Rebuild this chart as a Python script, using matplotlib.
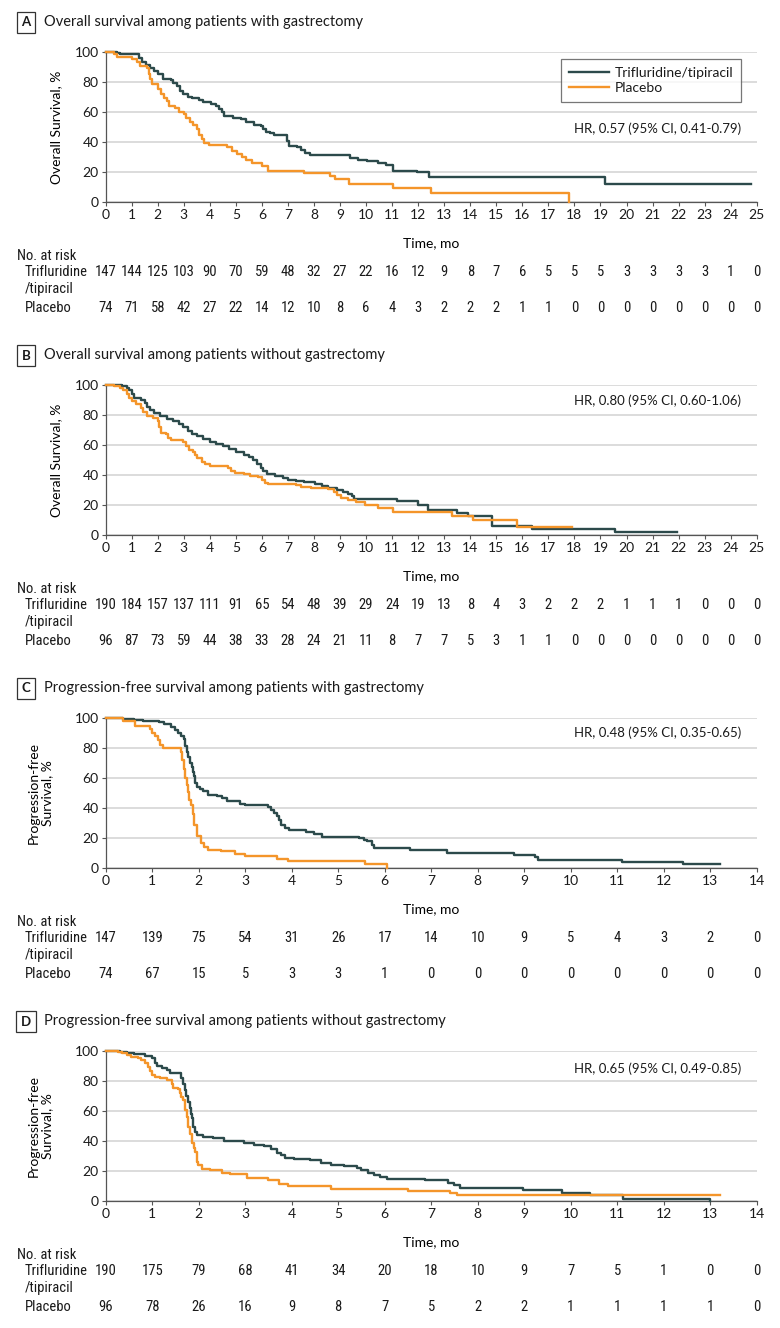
import matplotlib
matplotlib.use('Agg')
import matplotlib.pyplot as plt
from matplotlib import font_manager as fm
import matplotlib.transforms as mtransforms
from matplotlib.lines import Line2D

# ---------------- data ----------------
months_os = list(range(0, 26))
months_pfs = list(range(0, 15))

# Panel A: OS with gastrectomy
A_tri_t = [0, 0.42, 0.55, 1.29, 1.4, 1.55, 1.7, 1.85, 2.0, 2.2, 2.5, 2.6, 2.75, 2.85, 2.95, 3.15, 3.3, 3.6, 3.75,
           4.05, 4.25, 4.35, 4.45, 4.55, 4.9, 5.2, 5.4, 5.7, 5.95, 6.05, 6.15, 6.3, 6.45, 6.98, 7.05, 7.35, 7.5,
           7.65, 7.85, 9.38, 9.7, 10.05, 10.45, 10.75, 11.02, 11.94, 12.43, 19.19, 24.8]
A_tri_s = [100, 99.3, 98.6, 95.5, 93, 91.5, 89, 87, 85, 82, 81, 79, 77, 74, 72, 70, 69.3, 68, 66.5,
           65.3, 64, 62, 60, 57.3, 56, 55, 53, 51.5, 50.5, 48.5, 47, 46, 44.7, 40.5, 37.6, 36.5, 35,
           33, 31.2, 29.5, 28.3, 27.2, 26, 24.8, 21, 20, 16.6, 12.4, 12.4]
A_pla_t = [0, 0.3, 0.45, 1.0, 1.19, 1.3, 1.6, 1.65, 1.72, 1.77, 2.02, 2.12, 2.22, 2.35, 2.45, 2.65, 2.8, 3.0,
           3.1, 3.25, 3.35, 3.5, 3.6, 3.68, 3.78, 3.95, 4.65, 4.85, 5.05, 5.25, 5.4, 5.6, 6.0, 6.22, 7.63,
           8.6, 8.8, 9.36, 11.05, 12.5, 17.8]
A_pla_s = [100, 98.6, 96.2, 95, 93, 90.5, 89, 85, 82, 78.5, 75, 72, 69, 67, 64, 62.5, 59.7, 58.5,
           56, 53.5, 51.5, 49, 45, 42, 39.5, 38, 36.5, 34, 32, 30, 28, 26.3, 24.3, 21, 19.5,
           17.3, 15.7, 12.2, 9.4, 6.4, 0]
A_risk_tri = [147, 144, 125, 103, 90, 70, 59, 48, 32, 27, 22, 16, 12, 9, 8, 7, 6, 5, 5, 5, 3, 3, 3, 3, 1, 0]
A_risk_pla = [74, 71, 58, 42, 27, 22, 14, 12, 10, 8, 6, 4, 3, 2, 2, 2, 1, 1, 0, 0, 0, 0, 0, 0, 0, 0]

# Panel B: OS without gastrectomy
B_tri_t = [0, 0.61, 0.8, 0.9, 1.0, 1.1, 1.35, 1.5, 1.6, 1.72, 1.85, 2.1, 2.35, 2.6, 2.8, 2.95, 3.15, 3.3, 3.5,
           3.75, 4.0, 4.25, 4.5, 4.75, 5.0, 5.3, 5.5, 5.65, 5.8, 5.95, 6.05, 6.18, 6.5, 6.8, 7.0, 7.3, 7.6,
           8.05, 8.3, 8.55, 8.9, 9.1, 9.3, 9.45, 9.55, 11.17, 12.0, 12.39, 13.48, 13.93, 14.82, 16.36, 19.56, 21.93]
B_tri_s = [100, 99.3, 98, 96.5, 94, 91.5, 90, 88, 85.5, 83.5, 81, 79, 77.5, 76, 74, 72, 69.5, 67.5, 66,
           64, 62, 60.5, 59, 57, 55, 53.5, 52, 50, 47.5, 45, 42.5, 40.7, 39.5, 38.3, 37, 36, 35.5,
           34, 33, 31.5, 30, 29, 27.5, 25.8, 24.2, 22.5, 20.3, 17, 14.8, 12.6, 6.4, 4.2, 2.0, 2.0]
B_pla_t = [0, 0.3, 0.55, 0.68, 0.8, 0.9, 1.0, 1.15, 1.35, 1.42, 1.6, 1.8, 2.0, 2.05, 2.12, 2.3, 2.4, 2.5,
           2.98, 3.1, 3.2, 3.35, 3.42, 3.52, 3.7, 3.82, 4.0, 4.7, 4.82, 4.95, 5.3, 5.55, 5.85, 6.0, 6.1,
           6.22, 7.3, 7.5, 7.9, 8.55, 8.75, 8.9, 9.05, 9.3, 9.6, 9.95, 10.45, 11.05, 13.29, 14.12, 15.78, 17.9]
B_pla_s = [100, 99.3, 98, 96.5, 94, 91.5, 89, 87, 84.5, 82, 79.5, 78, 76, 72, 68, 67, 64.5, 63,
           62, 59, 56.5, 55, 53, 51, 49, 47.5, 46.3, 44.5, 42.5, 41.5, 40.5, 39.5, 38.5, 36.5, 35,
           34, 33.3, 32, 31.5, 30.5, 28.5, 26.5, 24.5, 23.5, 22, 20, 18.1, 15.4, 13, 10.4, 5.3, 5.3]
B_risk_tri = [190, 184, 157, 137, 111, 91, 65, 54, 48, 39, 29, 24, 19, 13, 8, 4, 3, 2, 2, 2, 1, 1, 1, 0, 0, 0]
B_risk_pla = [96, 87, 73, 59, 44, 38, 33, 28, 24, 21, 11, 8, 7, 7, 5, 3, 1, 1, 0, 0, 0, 0, 0, 0, 0, 0]

# Panel C: PFS with gastrectomy
C_tri_t = [0, 0.38, 0.6, 0.8, 1.15, 1.25, 1.4, 1.48, 1.55, 1.63, 1.68, 1.71, 1.75, 1.78, 1.82, 1.85, 1.87, 1.89,
           1.92, 1.96, 2.02, 2.1, 2.2, 2.39, 2.5, 2.6, 2.75, 2.88, 3.0, 3.5, 3.55, 3.62, 3.68, 3.72, 3.78,
           3.85, 3.95, 4.3, 4.47, 4.65, 5.45, 5.55, 5.62, 5.72, 5.78, 6.54, 7.33, 8.77, 9.23, 9.3, 11.1, 12.42, 13.21]
C_tri_s = [100, 99.3, 98.7, 98, 97, 95.5, 94, 92, 90, 88, 86, 81, 77, 74, 70, 67.5, 64, 61,
           56.5, 54, 52.5, 51, 49, 48, 47, 45, 44.6, 43, 42, 40.5, 39, 37, 34.5, 32, 29,
           27, 25.5, 24, 22.5, 20.8, 20, 19, 18, 15.5, 13.5, 12, 10.2, 9.1, 7.5, 5.8, 4.2, 3.1, 3.1]
C_pla_t = [0, 0.38, 0.63, 0.95, 1.0, 1.07, 1.12, 1.17, 1.24, 1.63, 1.65, 1.68, 1.7, 1.74, 1.77, 1.8, 1.83,
           1.87, 1.9, 1.96, 2.05, 2.12, 2.2, 2.49, 2.78, 3.0, 3.68, 3.93, 5.58, 6.04]
C_pla_s = [100, 97.6, 94.5, 92.5, 90, 88, 85, 82, 79.7, 77, 72, 66, 60, 55, 50.5, 45.5, 42,
           36, 29, 21.2, 17, 14, 12.4, 11.3, 9.5, 8.4, 6.5, 5, 3.1, 0]
C_risk_tri = [147, 139, 75, 54, 31, 26, 17, 14, 10, 9, 5, 4, 3, 2, 0]
C_risk_pla = [74, 67, 15, 5, 3, 3, 1, 0, 0, 0, 0, 0, 0, 0, 0]

# Panel D: PFS without gastrectomy
D_tri_t = [0, 0.31, 0.45, 0.6, 0.85, 1.0, 1.05, 1.1, 1.2, 1.31, 1.38, 1.57, 1.62, 1.66, 1.7, 1.73, 1.77, 1.81,
           1.84, 1.86, 1.88, 1.91, 1.97, 2.1, 2.3, 2.54, 2.97, 3.19, 3.4, 3.55, 3.69, 3.76, 3.85, 4.05,
           4.4, 4.63, 4.84, 5.13, 5.4, 5.49, 5.65, 5.78, 5.9, 6.06, 6.86, 7.36, 7.5, 7.61, 8.98, 9.81,
           10.41, 11.13, 13.0]
D_tri_s = [100, 99.3, 98.5, 97.8, 96.5, 95, 92, 90, 88.5, 87, 85.5, 85, 82, 78, 74, 70, 66, 62,
           58, 55, 49.5, 46, 44, 42.8, 41.7, 40.1, 38.8, 37.7, 36.5, 35, 32.2, 30.6, 29, 28.4,
           27.5, 25.5, 24.4, 23.5, 22, 20.6, 19, 17.3, 16, 15, 14, 12.4, 10.6, 8.9, 7.8, 5.8,
           4.3, 1.2, 0]
D_pla_t = [0, 0.27, 0.35, 0.45, 0.55, 0.7, 0.75, 0.85, 0.9, 0.95, 1.0, 1.05, 1.17, 1.32, 1.42, 1.45, 1.55,
           1.6, 1.63, 1.66, 1.71, 1.74, 1.78, 1.82, 1.86, 1.9, 1.93, 1.96, 1.99, 2.07, 2.25, 2.5, 2.67,
           3.03, 3.5, 3.72, 3.93, 4.84, 6.51, 7.4, 7.55, 13.21]
D_pla_s = [100, 99.3, 98.5, 97, 96, 95, 93.5, 91.6, 89, 86.7, 83.8, 82.3, 81.6, 80.5, 78, 75.5, 74.3,
           71.6, 69, 67, 60.5, 56, 49.4, 45, 38.4, 35.5, 32.8, 26.2, 24.4, 21.7, 20.6, 19, 18,
           15.5, 14, 11.8, 10.2, 8.4, 6.9, 5.6, 4.2, 4.2]
D_risk_tri = [190, 175, 79, 68, 41, 34, 20, 18, 10, 9, 7, 5, 1, 0, 0]
D_risk_pla = [96, 78, 26, 16, 9, 8, 7, 5, 2, 2, 1, 1, 1, 1, 0]

titles = ["Overall survival among patients with gastrectomy",
          "Overall survival among patients without gastrectomy",
          "Progression-free survival among patients with gastrectomy",
          "Progression-free survival among patients without gastrectomy"]
letters = ["A", "B", "C", "D"]
ylabels = ["Overall Survival, %", "Overall Survival, %",
           "Progression-free\nSurvival, %", "Progression-free\nSurvival, %"]
hr_texts = ["HR, 0.57 (95% CI, 0.41-0.79)", "HR, 0.80 (95% CI, 0.60-1.06)",
            "HR, 0.48 (95% CI, 0.35-0.65)", "HR, 0.65 (95% CI, 0.49-0.85)"]
series_names = ["Trifluridine/tipiracil", "Placebo"]

# ---------------- styling ----------------
W, H, DPI = 780, 1328, 100
DARK = '#2c4a4b'
ORANGE = '#f4952a'
GRID = '#d9d9d9'
AXC = '#555555'
TXT = '#1a1a1a'

available = {f.name for f in fm.fontManager.ttflist}
MAIN = 'Lato' if 'Lato' in available else 'DejaVu Sans'
NARROW = 'Roboto Condensed' if 'Roboto Condensed' in available else MAIN

plt.rcParams['font.family'] = [MAIN, 'DejaVu Sans']
plt.rcParams['text.color'] = TXT

fig = plt.figure(figsize=(W / DPI, H / DPI), dpi=DPI)
fig.patch.set_facecolor('white')

panels = [
    dict(xmax=25, months=months_os, tri=(A_tri_t, A_tri_s), pla=(A_pla_t, A_pla_s),
         rt=A_risk_tri, rp=A_risk_pla, hr_y=0.49, legend=True, ylab_x=62.5),
    dict(xmax=25, months=months_os, tri=(B_tri_t, B_tri_s), pla=(B_pla_t, B_pla_s),
         rt=B_risk_tri, rp=B_risk_pla, hr_y=0.896, legend=False, ylab_x=62.5),
    dict(xmax=14, months=months_pfs, tri=(C_tri_t, C_tri_s), pla=(C_pla_t, C_pla_s),
         rt=C_risk_tri, rp=C_risk_pla, hr_y=0.897, legend=False, ylab_x=53),
    dict(xmax=14, months=months_pfs, tri=(D_tri_t, D_tri_s), pla=(D_pla_t, D_pla_s),
         rt=D_risk_tri, rp=D_risk_pla, hr_y=0.88, legend=False, ylab_x=53),
]

AX_L, AX_R = 105.7, 756.7
AX_TOP, AX_BOT = 51.7, 202.3
AX_H = AX_BOT - AX_TOP
STEP = 333

for i, p in enumerate(panels):
    y0 = i * STEP
    ax = fig.add_axes([AX_L / W, 1 - (y0 + AX_BOT) / H, (AX_R - AX_L) / W, AX_H / H])
    ax.set_xlim(0, p['xmax'])
    ax.set_ylim(0, 100)
    ax.set_xticks(p['months'])
    ax.set_yticks([0, 20, 40, 60, 80, 100])
    ax.yaxis.grid(True, color=GRID, lw=1.3)
    ax.set_axisbelow(True)
    for s in ['top', 'right']:
        ax.spines[s].set_visible(False)
    for s in ['left', 'bottom']:
        ax.spines[s].set_color(AXC)
        ax.spines[s].set_linewidth(0.9)
    ax.tick_params(axis='both', length=3, width=0.8, color=AXC, labelsize=10, pad=2, labelcolor=TXT)

    ax.step(p['tri'][0], p['tri'][1], where='post', color=DARK, lw=1.7, clip_on=False, zorder=3)
    ax.step(p['pla'][0], p['pla'][1], where='post', color=ORANGE, lw=1.7, clip_on=False, zorder=4)

    ax.set_xlabel('Time, mo', fontsize=10)
    ax.xaxis.set_label_coords(0.5, -34.6 / AX_H)
    ax.set_ylabel(ylabels[i], fontsize=10, linespacing=1.1)
    ax.yaxis.set_label_coords((p['ylab_x'] - AX_L) / (AX_R - AX_L), 0.5)

    ax.text(0.976, p['hr_y'], hr_texts[i], transform=ax.transAxes, ha='right', va='center', fontsize=9.5)

    if p['legend']:
        handles = [Line2D([], [], color=DARK, lw=1.7), Line2D([], [], color=ORANGE, lw=1.7)]
        leg = ax.legend(handles, series_names, loc='upper right', bbox_to_anchor=(0.976, 0.951),
                        frameon=True, fancybox=False, edgecolor=AXC, fontsize=10,
                        handlelength=2.9, handletextpad=0.4, borderpad=0.55, labelspacing=0.25,
                        borderaxespad=0)
        leg.get_frame().set_linewidth(0.9)

    # header
    fig.text(26 / W, 1 - (y0 + 22.5) / H, letters[i], ha='center', va='center', fontsize=9.5,
             weight='bold', bbox=dict(boxstyle='square,pad=0.35', fc='white', ec='#333333', lw=0.9))
    fig.text(44 / W, 1 - (y0 + 22) / H, titles[i], ha='left', va='center', fontsize=10.5)

    # risk table
    trl = mtransforms.blended_transform_factory(fig.transFigure, ax.transAxes)
    trd = mtransforms.blended_transform_factory(ax.transData, ax.transAxes)
    rfont = dict(family=[NARROW, 'DejaVu Sans'], fontsize=10.5)
    ax.text(17 / W, -54 / AX_H, 'No. at risk', transform=trl, ha='left', va='center', **rfont)
    ax.text(25 / W, -69.6 / AX_H, 'Trifluridine', transform=trl, ha='left', va='center', **rfont)
    ax.text(25 / W, -86.3 / AX_H, '/tipiracil', transform=trl, ha='left', va='center', **rfont)
    ax.text(25 / W, -105.3 / AX_H, 'Placebo', transform=trl, ha='left', va='center', **rfont)
    for m, n in zip(p['months'], p['rt']):
        ax.text(m, -69.6 / AX_H, str(n), transform=trd, ha='center', va='center', clip_on=False, **rfont)
    for m, n in zip(p['months'], p['rp']):
        ax.text(m, -105.3 / AX_H, str(n), transform=trd, ha='center', va='center', clip_on=False, **rfont)

fig.savefig('out.png', dpi=DPI, facecolor='white')
